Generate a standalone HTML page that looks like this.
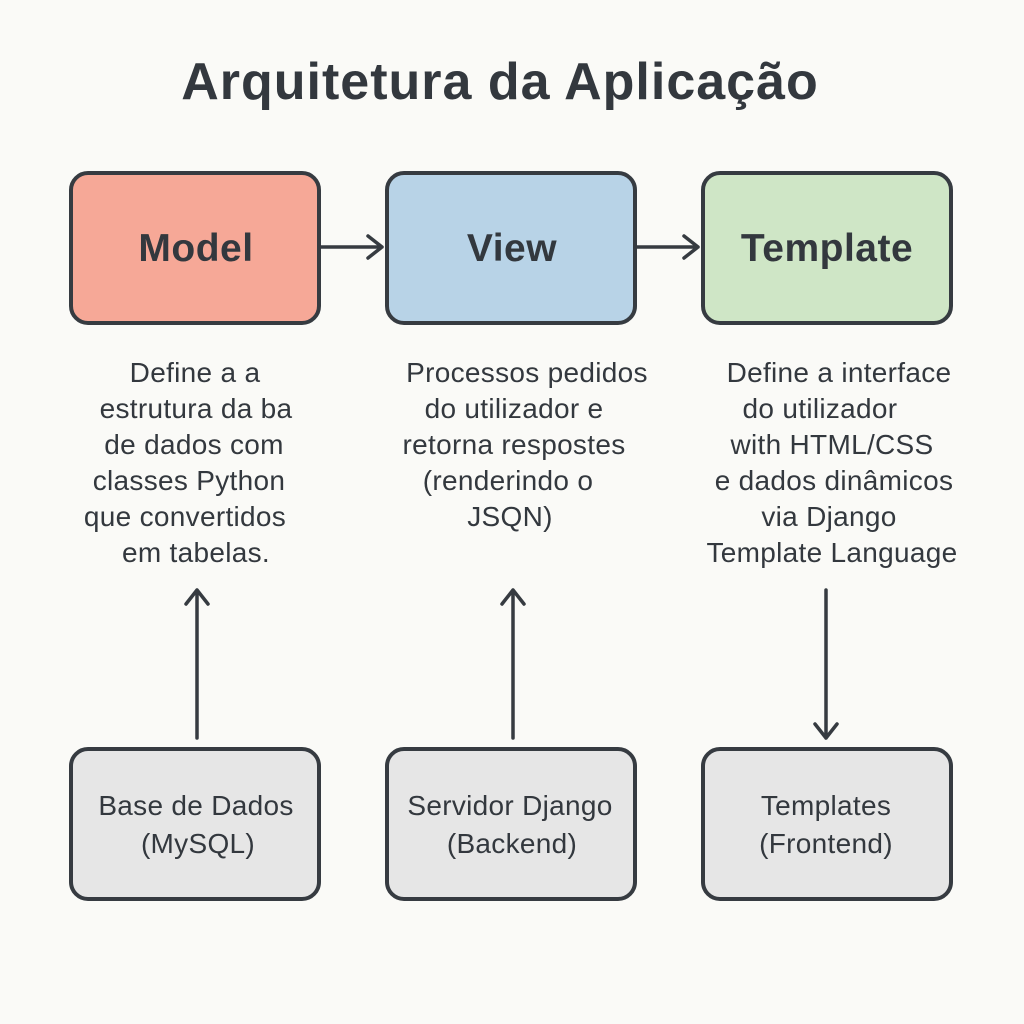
<!DOCTYPE html>
<html><head><meta charset="utf-8"><style>
html,body{margin:0;padding:0;background:#fafaf7;}
svg{display:block}
text{font-family:"Liberation Sans","DejaVu Sans",sans-serif;fill:#33383e;text-anchor:middle}
</style></head><body>
<svg width="1024" height="1024" viewBox="0 0 1024 1024">
<rect width="1024" height="1024" fill="#fafaf7"/>
<text x="500" y="99" font-size="52" font-weight="bold" fill="#3b4047" letter-spacing="1">Arquitetura da Aplicação</text>
<g stroke="#363b41" stroke-width="4">
<rect x="71" y="173" width="248" height="150" rx="17" fill="#f6a897"/>
<rect x="387" y="173" width="248" height="150" rx="17" fill="#b8d3e7"/>
<rect x="703" y="173" width="248" height="150" rx="17" fill="#cfe6c6"/>
<rect x="71" y="749" width="248" height="150" rx="17" fill="#e6e6e6"/>
<rect x="387" y="749" width="248" height="150" rx="17" fill="#e6e6e6"/>
<rect x="703" y="749" width="248" height="150" rx="17" fill="#e6e6e6"/>
</g>
<g stroke="#363b41" stroke-width="3.5" fill="none" stroke-linecap="round" stroke-linejoin="round">
<path d="M320 247 H382 M368 236 L382 247 L368 258"/>
<path d="M636 247 H698 M684 236 L698 247 L684 258"/>
<path d="M197 738 V590 M186 604 L197 590 L208 604"/>
<path d="M513 738 V590 M502 604 L513 590 L524 604"/>
<path d="M826 590 V738 M815 724 L826 738 L837 724"/>
</g>
<g font-size="39" font-weight="bold" letter-spacing="0.5">
<text x="196" y="261">Model</text>
<text x="512" y="261">View</text>
<text x="827" y="261">Template</text>
</g>
<g font-size="28" letter-spacing="0.3">
<text x="195" y="382">Define a a</text>
<text x="196" y="418">estrutura da ba</text>
<text x="194" y="454">de dados com</text>
<text x="189" y="490">classes Python</text>
<text x="185" y="526">que convertidos</text>
<text x="196" y="562">em tabelas.</text>
<text x="527" y="382">Processos pedidos</text>
<text x="514" y="418">do utilizador e</text>
<text x="514" y="454">retorna respostes</text>
<text x="508" y="490">(renderindo o</text>
<text x="510" y="526">JSQN)</text>
<text x="839" y="382">Define a interface</text>
<text x="820" y="418">do utilizador</text>
<text x="832" y="454">with HTML/CSS</text>
<text x="834" y="490">e dados dinâmicos</text>
<text x="829" y="526">via Django</text>
<text x="832" y="562">Template Language</text>
<text x="196" y="815">Base de Dados</text>
<text x="198" y="853">(MySQL)</text>
<text x="510" y="815">Servidor Django</text>
<text x="512" y="853">(Backend)</text>
<text x="826" y="815">Templates</text>
<text x="826" y="853">(Frontend)</text>
</g>
</svg>
</body></html>
